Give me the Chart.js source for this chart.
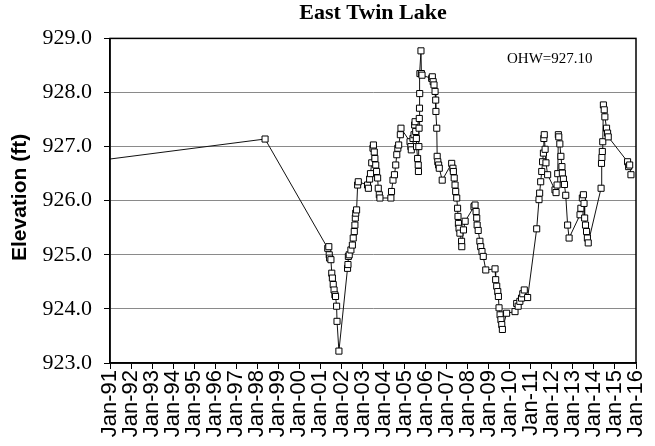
<!DOCTYPE html>
<html>
<head>
<meta charset="utf-8">
<script src="https://cdn.jsdelivr.net/npm/chart.js@4/dist/chart.umd.min.js"></script>
<style>
  html, body { margin: 0; padding: 0; background: #fff; }
  #wrap { width: 655px; height: 446px; }
</style>
</head>
<body>
<div id="wrap"><canvas id="lakeChart"></canvas></div>
<script>
// sample dates as decimal years
const sampleYears = [
  1989.0, 1998.37,
  2001.35, 2001.40, 2001.42, 2001.44, 2001.50, 2001.54, 2001.57, 2001.61, 2001.65, 2001.69, 2001.72, 2001.77, 2001.79, 2001.88,
  2002.29, 2002.31, 2002.33, 2002.37, 2002.45, 2002.52, 2002.56, 2002.61, 2002.64, 2002.66, 2002.68, 2002.72, 2002.77, 2002.80,
  2003.24, 2003.28, 2003.34, 2003.38, 2003.44, 2003.50, 2003.52, 2003.56, 2003.59, 2003.63, 2003.67, 2003.72, 2003.75, 2003.80, 2003.83,
  2004.35, 2004.38, 2004.45, 2004.52, 2004.58, 2004.63, 2004.68, 2004.72, 2004.80, 2004.83,
  2005.26, 2005.30, 2005.32, 2005.40, 2005.45, 2005.48, 2005.50, 2005.53, 2005.56, 2005.57, 2005.62, 2005.65, 2005.66,
  2005.68, 2005.69, 2005.70, 2005.71, 2005.72, 2005.73, 2005.78, 2005.80, 2005.83,
  2006.29, 2006.32, 2006.36, 2006.40, 2006.45, 2006.48, 2006.49, 2006.53, 2006.55, 2006.58, 2006.62, 2006.65, 2006.79,
  2007.24, 2007.30, 2007.32, 2007.36, 2007.40, 2007.43, 2007.48, 2007.52, 2007.54, 2007.56, 2007.59, 2007.63, 2007.71, 2007.72,
  2007.80, 2007.88, 2008.30, 2008.35, 2008.40, 2008.43, 2008.45, 2008.50, 2008.58, 2008.62, 2008.68, 2008.74, 2008.86,
  2009.30, 2009.33, 2009.38, 2009.43, 2009.46, 2009.49, 2009.54, 2009.58, 2009.62, 2009.65, 2009.85,
  2010.25, 2010.33, 2010.40, 2010.48, 2010.56, 2010.62, 2010.69, 2010.85,
  2011.28, 2011.39, 2011.42, 2011.47, 2011.52, 2011.56, 2011.60, 2011.62, 2011.64, 2011.68, 2011.72, 2011.80,
  2012.15, 2012.20, 2012.25, 2012.28, 2012.31, 2012.33, 2012.38, 2012.43, 2012.48, 2012.50, 2012.55, 2012.60, 2012.66, 2012.75, 2012.82,
  2013.34, 2013.38, 2013.45, 2013.50, 2013.53, 2013.56, 2013.60, 2013.65, 2013.69, 2013.73,
  2014.34, 2014.36, 2014.38, 2014.40, 2014.42, 2014.45, 2014.49, 2014.52, 2014.60, 2014.65, 2014.68,
  2015.60, 2015.65, 2015.70, 2015.76
];

// lake elevation (ft)
const elevations = [
  926.67, 927.14,
  925.12, 925.15, 925.00, 924.94, 924.91, 924.66, 924.57, 924.45, 924.35, 924.26, 924.23, 924.05, 923.77, 923.22,
  924.75, 924.82, 924.97, 925.00, 925.09, 925.18, 925.31, 925.43, 925.55, 925.68, 925.77, 925.83, 926.29, 926.35,
  926.29, 926.23, 926.40, 926.50, 926.70, 926.97, 927.03, 926.90, 926.78, 926.66, 926.54, 926.42, 926.23, 926.11, 926.05,
  926.05, 926.17, 926.38, 926.48, 926.66, 926.85, 926.97, 927.03, 927.22, 927.34,
  927.09, 927.00, 926.94, 927.15, 927.22, 927.40, 927.46, 927.28, 927.15, 927.00, 926.78, 926.66, 926.54,
  927.00, 927.34, 927.52, 927.71, 927.98, 928.35, 928.77, 928.35, 928.32,
  928.26, 928.29, 928.20, 928.14, 928.02, 927.86, 927.65, 927.34, 926.82, 926.72, 926.66, 926.60, 926.38,
  926.69, 926.60, 926.54, 926.42, 926.29, 926.17, 926.05, 925.86, 925.71, 925.58, 925.49, 925.40, 925.25, 925.15,
  925.46, 925.62, 925.89, 925.92, 925.80, 925.68, 925.55, 925.45, 925.25, 925.15, 925.06, 924.97, 924.72,
  924.74, 924.54, 924.42, 924.32, 924.23, 924.02, 923.89, 923.80, 923.71, 923.62, 923.92,
  923.95, 924.10, 924.05, 924.14, 924.20, 924.28, 924.35, 924.21,
  925.48, 926.02, 926.14, 926.35, 926.54, 926.72, 926.88, 927.15, 927.22, 926.95, 926.70, 926.48,
  926.20, 926.15, 926.29, 926.50, 927.22, 927.18, 927.05, 926.82, 926.63, 926.51, 926.40, 926.30, 926.10, 925.55, 925.31,
  925.74, 925.86, 926.05, 926.11, 925.95, 925.68, 925.55, 925.43, 925.31, 925.22,
  926.23, 926.69, 926.80, 926.91, 927.09, 927.77, 927.68, 927.55, 927.34, 927.25, 927.18,
  926.72, 926.63, 926.66, 926.48
];

const yearTicks = [1991, 2016];          // x axis range, one tick per January
const elevationTicks = [923, 929];       // y axis range, step 1 ft
const ohwLabel = "OHW=927.10";
const yAxisTitle = "Elevation (ft)";

const points = sampleYears.map((yr, i) => ({ x: yr, y: elevations[i] }));

// box round the plot area, the OHW note and the y title
const frameAndNote = {
  id: "frameAndNote",
  afterDatasetsDraw(chart) {
    const { ctx, chartArea, scales } = chart;
    ctx.save();
    ctx.strokeStyle = "#000";
    ctx.lineWidth = 1.5;
    ctx.strokeRect(chartArea.left, chartArea.top, chartArea.right - chartArea.left, chartArea.bottom - chartArea.top);
    ctx.fillStyle = "#000";
    ctx.font = "15px 'Liberation Serif'";
    ctx.textAlign = "center";
    ctx.textBaseline = "middle";
    ctx.fillText(ohwLabel, scales.x.getPixelForValue(2011.9), scales.y.getPixelForValue(928.62));

    ctx.font = "bold 21px 'Liberation Sans'";
    ctx.translate(20, chartArea.top + (chartArea.bottom - chartArea.top) * 0.49);
    ctx.rotate(-Math.PI / 2);
    ctx.fillText(yAxisTitle, 0, 0);
    ctx.restore();
  }
};

const ctx = document.getElementById("lakeChart");
new Chart(ctx, {
  type: "line",
  data: {
    datasets: [
      {
        label: "East Twin Lake",
        data: points,
        borderColor: "#111",
        borderWidth: 1,
        pointStyle: "rect",
        pointRadius: 4.3,
        pointBackgroundColor: "#fff",
        pointBorderColor: "#000",
        pointBorderWidth: 1,
        tension: 0,
      },
    ],
  },
  options: {
    responsive: true,
    maintainAspectRatio: false,
    animation: false,
    layout: { padding: { left: 0, right: 19, top: 0, bottom: 0 } },
    scales: {
      x: {
        type: "linear",
        min: yearTicks[0],
        max: yearTicks[1],
        afterFit(scale) {
          scale.height = 83;
          scale.paddingLeft = 0;
          scale.paddingRight = 0;
        },
        grid: {
          drawOnChartArea: false, // only the small tick marks below the axis
          tickLength: 6,
          tickColor: "#000",
        },
        border: { color: "#000", width: 1.5 },
        ticks: {
          stepSize: 1,
          autoSkip: false,
          minRotation: 90,
          maxRotation: 90,
          padding: 1,
          color: "#000",
          font: { family: "'Liberation Sans'", size: 22 },
          callback: (v) => "Jan-" + String(v % 100).padStart(2, "0"),
        },
      },
      y: {
        min: elevationTicks[0],
        max: elevationTicks[1],
        afterFit(scale) { scale.width = 110; },
        grid: {
          color: "#8a8a8a",
          tickColor: "#000",
          tickLength: 6,
        },
        border: { color: "#000", width: 1.5 },
        ticks: {
          stepSize: 1,
          padding: 12,
          color: "#000",
          font: { family: "'Liberation Serif'", size: 22 },
          callback: (v) => v.toFixed(1),
        },
      },
    },
    plugins: {
      legend: { display: false },
      tooltip: { enabled: false },
      title: {
        display: true,
        text: "East Twin Lake",
        fullSize: false,
        color: "#000",
        padding: { top: 0, bottom: 12 },
        font: { family: "'Liberation Serif'", size: 22, weight: "bold" },
      },
    },
  },
  plugins: [frameAndNote],
});
</script>
</body>
</html>
